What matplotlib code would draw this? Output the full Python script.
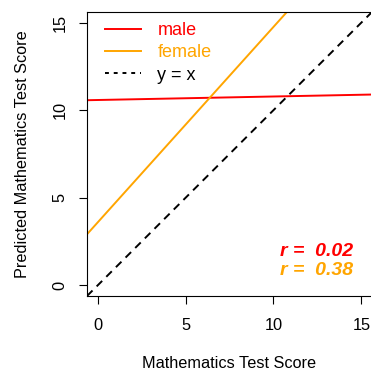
# Predicted vs actual maths score, one fitted line per group plus the identity line.
import matplotlib
matplotlib.use("Agg")
import matplotlib.pyplot as plt

plt.rcParams["font.family"] = ["Liberation Sans", "DejaVu Sans"]

# fitted lines: intercept and slope for each group
groups = ["male", "female"]
intercepts = [10.58, 3.59]
slopes = [0.02, 1.116]
colors = ["#FF0000", "#FFA500"]
r_values = [0.02, 0.38]

ticks = [0, 5, 10, 15]

fig = plt.figure(figsize=(3.71, 3.72), dpi=100)
ax = fig.add_axes([87 / 371, 76 / 372, 285 / 371, 284 / 372])

for name, b0, b1, col in zip(groups, intercepts, slopes, colors):
    ax.axline((0, b0), slope=b1, color=col, lw=1.4, label=name)
ax.axline((0, 0), slope=1, color="black", lw=1.4, dashes=(4, 3), label="y = x")

ax.set_xlim(-0.6, 15.6)
ax.set_ylim(-0.6, 15.6)
ax.set_xticks(ticks)
ax.set_yticks(ticks)
ax.set_yticklabels([str(t) for t in ticks], rotation=90, va="center")
ax.tick_params(direction="out", length=6, width=0.8, labelsize=11.8, pad=10)
ax.tick_params(axis="y", pad=8)
for s in ax.spines.values():
    s.set_linewidth(0.8)

ax.set_xlabel("Mathematics Test Score", fontsize=11.7)
ax.xaxis.set_label_coords(0.5, -0.21)
ax.set_ylabel("Predicted Mathematics Test Score", fontsize=11.7, va="center")
ax.yaxis.set_label_coords(-0.228, 0.5)

# legend handles: dotted style for the identity line
handles, labels = ax.get_legend_handles_labels()
leg = ax.legend(handles, labels, loc="upper left", frameon=False,
                bbox_to_anchor=(0.063, 0.965), borderpad=0, borderaxespad=0,
                fontsize=13, handlelength=2.0, handletextpad=0.9,
                labelspacing=0.3)
leg.get_lines()[2].set_dashes((2, 2.5))
for txt, col in zip(leg.get_texts(), colors + ["black"]):
    txt.set_color(col)

for i, (r, col) in enumerate(zip(r_values, colors)):
    ax.text(14.53, 1.95 - 1.08 * i, f"r =  {r:.2f}", color=col, fontsize=14,
            fontweight="bold", fontstyle="italic", ha="right", va="center")

fig.savefig("out.png", dpi=100)
